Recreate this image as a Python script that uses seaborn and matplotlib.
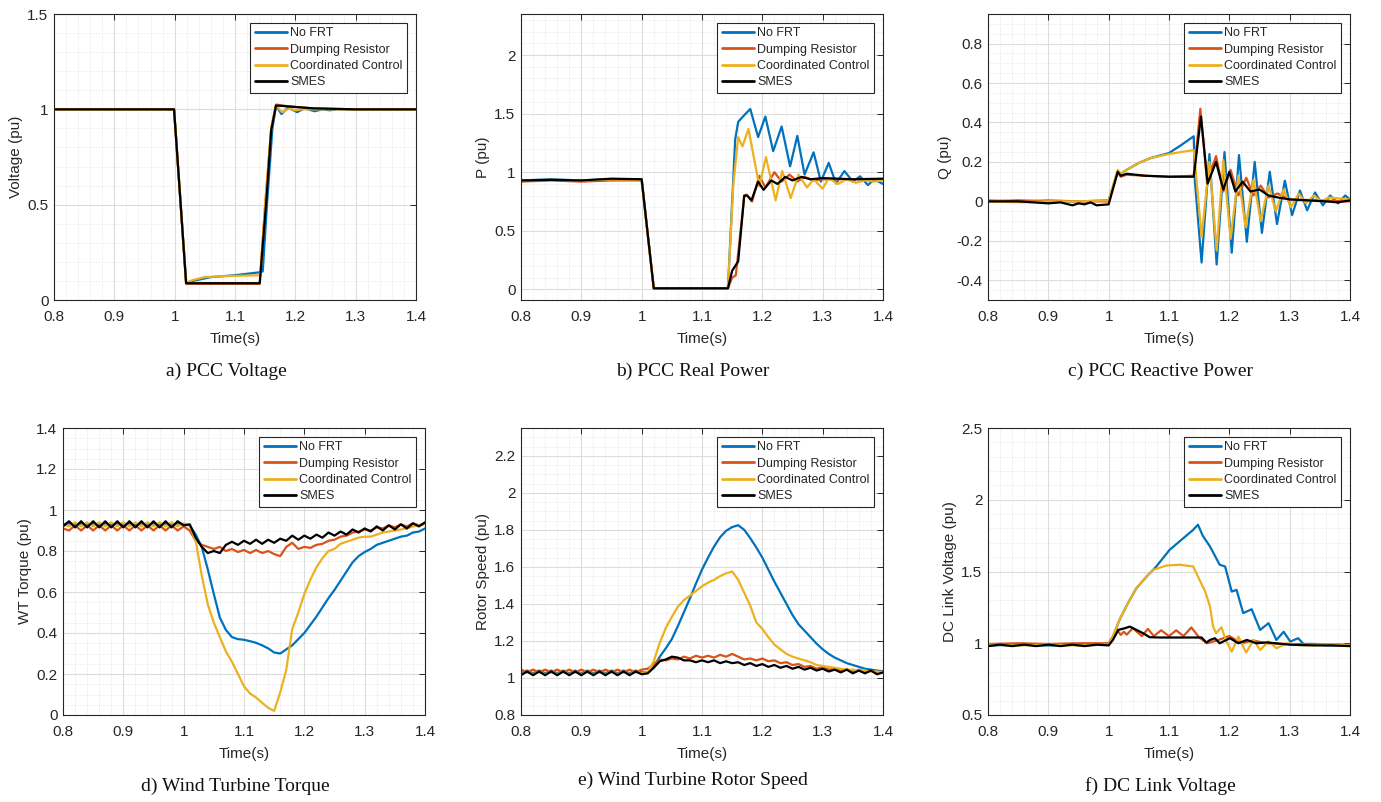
import numpy as np
import matplotlib.pyplot as plt
import matplotlib as mpl
from matplotlib.ticker import AutoMinorLocator, FormatStrFormatter
import seaborn as sns

# %%
# series names and MATLAB default colours
names = ["No FRT", "Dumping Resistor", "Coordinated Control", "SMES"]
colors = ["#0072BD", "#D95319", "#EDB120", "#000000"]

# %%
# a) PCC voltage
a_t_blue = [0.8, 0.999, 1.019, 1.03, 1.06, 1.1, 1.14, 1.146, 1.153, 1.162, 1.168, 1.177, 1.188, 1.203, 1.215, 1.232, 1.245, 1.257, 1.27, 1.4]
a_v_blue = [1.0, 1.0, 0.09, 0.10, 0.12, 0.13, 0.145, 0.15, 0.5, 0.9, 1.02, 0.975, 1.01, 0.985, 1.005, 0.99, 1.0, 0.995, 1.0, 1.0]
a_t_orange = [0.8, 0.999, 1.019, 1.141, 1.15, 1.16, 1.168, 1.19, 1.23, 1.3, 1.4]
a_v_orange = [1.0, 1.0, 0.085, 0.085, 0.5, 0.9, 1.025, 1.015, 1.005, 1.0, 1.0]
a_t_yellow = [0.8, 0.999, 1.019, 1.03, 1.05, 1.08, 1.142, 1.15, 1.16, 1.168, 1.178, 1.19, 1.2, 1.21, 1.4]
a_v_yellow = [1.0, 1.0, 0.09, 0.105, 0.12, 0.125, 0.13, 0.5, 0.9, 1.02, 0.985, 1.005, 0.995, 1.0, 1.0]
a_t_black = [0.8, 0.999, 1.019, 1.141, 1.152, 1.16, 1.168, 1.19, 1.23, 1.3, 1.4]
a_v_black = [1.0, 1.0, 0.088, 0.088, 0.525, 0.89, 1.02, 1.015, 1.005, 1.0, 1.0]

# %%
# b) PCC real power
b_t_blue = [0.8, 0.85, 0.9, 0.95, 1.0, 1.02, 1.143, 1.155, 1.16, 1.167, 1.18, 1.193, 1.205, 1.218, 1.232, 1.246, 1.258, 1.27, 1.285, 1.297, 1.31, 1.322, 1.336, 1.35, 1.362, 1.375, 1.385, 1.4]
b_v_blue = [0.93, 0.94, 0.93, 0.94, 0.94, 0.01, 0.01, 1.28, 1.43, 1.47, 1.54, 1.30, 1.475, 1.18, 1.39, 1.05, 1.31, 0.98, 1.17, 0.92, 1.08, 0.905, 1.01, 0.92, 0.965, 0.89, 0.94, 0.9]
b_t_orange = [0.8, 0.85, 0.9, 0.95, 1.0, 1.02, 1.143, 1.15, 1.156, 1.164, 1.17, 1.174, 1.183, 1.195, 1.205, 1.22, 1.232, 1.245, 1.258, 1.27, 1.285, 1.3, 1.4]
b_v_orange = [0.92, 0.93, 0.92, 0.93, 0.93, 0.01, 0.01, 0.1, 0.12, 0.5, 0.8, 0.81, 0.75, 0.97, 0.87, 1.0, 0.92, 0.98, 0.92, 0.96, 0.93, 0.94, 0.94]
b_t_yellow = [0.8, 0.85, 0.9, 0.95, 1.0, 1.02, 1.143, 1.152, 1.16, 1.167, 1.177, 1.195, 1.206, 1.222, 1.233, 1.247, 1.26, 1.274, 1.285, 1.3, 1.31, 1.325, 1.34, 1.355, 1.37, 1.385, 1.4]
b_v_yellow = [0.93, 0.935, 0.93, 0.94, 0.935, 0.01, 0.01, 0.9, 1.30, 1.22, 1.37, 0.88, 1.13, 0.76, 1.01, 0.78, 0.98, 0.87, 0.94, 0.86, 0.95, 0.9, 0.94, 0.91, 0.93, 0.92, 0.93]
b_t_black = [0.8, 0.85, 0.9, 0.95, 1.0, 1.02, 1.143, 1.15, 1.16, 1.17, 1.175, 1.182, 1.193, 1.202, 1.215, 1.225, 1.238, 1.25, 1.265, 1.28, 1.3, 1.35, 1.4]
b_v_black = [0.93, 0.935, 0.93, 0.945, 0.94, 0.01, 0.01, 0.16, 0.24, 0.8, 0.8, 0.76, 0.92, 0.85, 0.93, 0.9, 0.96, 0.93, 0.96, 0.94, 0.95, 0.94, 0.945]

# %%
# c) PCC reactive power
c_t_blue = [0.8, 0.85, 0.9, 0.95, 1.0, 1.015, 1.02, 1.03, 1.05, 1.07, 1.1, 1.12, 1.141, 1.143, 1.154, 1.167, 1.179, 1.192, 1.204, 1.216, 1.229, 1.242, 1.254, 1.267, 1.279, 1.292, 1.304, 1.317, 1.329, 1.342, 1.355, 1.367, 1.38, 1.392, 1.4]
c_v_blue = [0.0, 0.005, 0.0, 0.0, 0.005, 0.15, 0.14, 0.16, 0.195, 0.22, 0.245, 0.285, 0.33, 0.1, -0.31, 0.24, -0.32, 0.25, -0.26, 0.235, -0.205, 0.2, -0.16, 0.15, -0.115, 0.105, -0.07, 0.055, -0.045, 0.045, -0.02, 0.03, -0.01, 0.03, 0.01]
c_t_orange = [0.8, 0.85, 0.9, 0.95, 1.0, 1.015, 1.02, 1.03, 1.06, 1.1, 1.141, 1.152, 1.163, 1.178, 1.19, 1.202, 1.215, 1.228, 1.24, 1.252, 1.265, 1.28, 1.3, 1.35, 1.4]
c_v_orange = [0.005, 0.0, 0.005, 0.0, 0.0, 0.15, 0.125, 0.135, 0.13, 0.125, 0.13, 0.47, 0.1, 0.23, 0.05, 0.16, 0.03, 0.12, 0.03, 0.08, 0.02, 0.04, 0.01, 0.005, 0.0]
c_t_yellow = [0.8, 0.85, 0.9, 0.95, 1.0, 1.015, 1.02, 1.03, 1.05, 1.07, 1.1, 1.12, 1.141, 1.143, 1.154, 1.167, 1.179, 1.19, 1.202, 1.215, 1.227, 1.24, 1.252, 1.265, 1.277, 1.29, 1.302, 1.315, 1.327, 1.34, 1.352, 1.365, 1.4]
c_v_yellow = [0.0, -0.005, 0.0, 0.0, 0.005, 0.16, 0.14, 0.16, 0.195, 0.22, 0.24, 0.25, 0.26, 0.2, -0.18, 0.2, -0.25, 0.21, -0.19, 0.13, -0.13, 0.11, -0.1, 0.08, -0.05, 0.06, -0.03, 0.04, -0.01, 0.03, 0.0, 0.02, 0.01]
c_t_black = [0.8, 0.85, 0.9, 0.92, 0.94, 0.95, 0.96, 0.97, 0.98, 1.0, 1.015, 1.02, 1.03, 1.06, 1.1, 1.141, 1.153, 1.164, 1.178, 1.19, 1.2, 1.21, 1.222, 1.235, 1.25, 1.265, 1.28, 1.3, 1.33, 1.36, 1.38, 1.4]
c_v_black = [0.0, 0.0, -0.01, -0.005, -0.02, -0.01, -0.015, -0.005, -0.02, -0.015, 0.15, 0.13, 0.14, 0.13, 0.125, 0.125, 0.43, 0.09, 0.2, 0.06, 0.15, 0.05, 0.1, 0.05, 0.06, 0.03, 0.02, 0.01, 0.005, 0.0, -0.005, 0.005]

# %%
# shared 10 ms time grid for d) and e)
grid_t = [0.80, 0.81, 0.82, 0.83, 0.84, 0.85, 0.86, 0.87, 0.88, 0.89,
          0.90, 0.91, 0.92, 0.93, 0.94, 0.95, 0.96, 0.97, 0.98, 0.99,
          1.00, 1.01, 1.02, 1.03, 1.04, 1.05, 1.06, 1.07, 1.08, 1.09,
          1.10, 1.11, 1.12, 1.13, 1.14, 1.15, 1.16, 1.17, 1.18, 1.19,
          1.20, 1.21, 1.22, 1.23, 1.24, 1.25, 1.26, 1.27, 1.28, 1.29,
          1.30, 1.31, 1.32, 1.33, 1.34, 1.35, 1.36, 1.37, 1.38, 1.39, 1.40]

# d) wind turbine torque
d_blue = [0.93, 0.935, 0.925, 0.935, 0.925, 0.935, 0.925, 0.935, 0.925, 0.935,
          0.925, 0.935, 0.925, 0.935, 0.925, 0.935, 0.925, 0.935, 0.925, 0.935,
          0.93, 0.925, 0.88, 0.82, 0.71, 0.59, 0.475, 0.415, 0.38, 0.37,
          0.367, 0.36, 0.352, 0.34, 0.325, 0.305, 0.30, 0.32, 0.34, 0.37,
          0.40, 0.44, 0.48, 0.525, 0.57, 0.61, 0.655, 0.7, 0.745, 0.775,
          0.795, 0.81, 0.83, 0.84, 0.85, 0.86, 0.87, 0.875, 0.89, 0.895, 0.91]
d_orange = [0.91, 0.90, 0.925, 0.90, 0.925, 0.90, 0.925, 0.90, 0.925, 0.90,
            0.925, 0.90, 0.925, 0.90, 0.925, 0.90, 0.925, 0.90, 0.925, 0.90,
            0.92, 0.9, 0.85, 0.83, 0.82, 0.81, 0.82, 0.8, 0.81, 0.795,
            0.805, 0.79, 0.805, 0.79, 0.8, 0.785, 0.775, 0.82, 0.84, 0.81,
            0.82, 0.815, 0.83, 0.835, 0.85, 0.855, 0.87, 0.875, 0.89, 0.895,
            0.905, 0.9, 0.915, 0.91, 0.925, 0.915, 0.93, 0.92, 0.935, 0.925, 0.935]
d_yellow = [0.93, 0.92, 0.94, 0.92, 0.94, 0.92, 0.94, 0.92, 0.94, 0.92,
            0.94, 0.92, 0.94, 0.92, 0.94, 0.92, 0.94, 0.92, 0.94, 0.92,
            0.935, 0.925, 0.85, 0.68, 0.54, 0.45, 0.38, 0.31, 0.26, 0.2,
            0.14, 0.105, 0.085, 0.06, 0.035, 0.02, 0.11, 0.22, 0.42, 0.5,
            0.59, 0.66, 0.72, 0.765, 0.8, 0.81, 0.835, 0.845, 0.855, 0.865,
            0.87, 0.87, 0.88, 0.89, 0.895, 0.9, 0.905, 0.91, 0.92, 0.925, 0.93]
d_black = [0.92, 0.945, 0.915, 0.945, 0.915, 0.945, 0.915, 0.945, 0.915, 0.945,
           0.915, 0.945, 0.915, 0.945, 0.915, 0.945, 0.915, 0.945, 0.915, 0.945,
           0.925, 0.93, 0.865, 0.82, 0.79, 0.8, 0.79, 0.83, 0.845, 0.83,
           0.85, 0.835, 0.855, 0.835, 0.855, 0.84, 0.86, 0.85, 0.875, 0.855,
           0.875, 0.86, 0.88, 0.865, 0.89, 0.875, 0.895, 0.88, 0.905, 0.89,
           0.91, 0.895, 0.92, 0.9, 0.925, 0.905, 0.93, 0.91, 0.935, 0.92, 0.94]

# e) wind turbine rotor speed
e_blue = [1.025, 1.04, 1.025, 1.04, 1.025, 1.04, 1.025, 1.04, 1.025, 1.04,
          1.025, 1.04, 1.025, 1.04, 1.025, 1.04, 1.025, 1.04, 1.025, 1.04,
          1.03, 1.03, 1.06, 1.115, 1.16, 1.21, 1.28, 1.355, 1.43, 1.51,
          1.585, 1.65, 1.71, 1.76, 1.795, 1.815, 1.825, 1.80, 1.755, 1.705,
          1.65, 1.585, 1.52, 1.46, 1.40, 1.34, 1.29, 1.255, 1.22, 1.185,
          1.155, 1.13, 1.11, 1.095, 1.08, 1.07, 1.06, 1.05, 1.045, 1.04, 1.035]
e_orange = [1.045, 1.03, 1.045, 1.03, 1.045, 1.03, 1.045, 1.03, 1.045, 1.03,
            1.045, 1.03, 1.045, 1.03, 1.045, 1.03, 1.045, 1.03, 1.045, 1.03,
            1.045, 1.05, 1.075, 1.1, 1.095, 1.105, 1.1, 1.115, 1.105, 1.12,
            1.11, 1.12, 1.11, 1.125, 1.115, 1.13, 1.115, 1.1, 1.105, 1.095,
            1.105, 1.09, 1.095, 1.08, 1.085, 1.07, 1.075, 1.06, 1.065, 1.05,
            1.06, 1.045, 1.05, 1.04, 1.045, 1.035, 1.045, 1.03, 1.04, 1.03, 1.035]
e_yellow = [1.02, 1.035, 1.02, 1.035, 1.02, 1.035, 1.02, 1.035, 1.02, 1.035,
            1.02, 1.035, 1.02, 1.035, 1.02, 1.035, 1.02, 1.035, 1.02, 1.035,
            1.025, 1.03, 1.09, 1.19, 1.27, 1.33, 1.385, 1.42, 1.445, 1.47,
            1.495, 1.515, 1.53, 1.55, 1.565, 1.575, 1.53, 1.46, 1.39, 1.3,
            1.265, 1.22, 1.18, 1.155, 1.13, 1.115, 1.105, 1.095, 1.085, 1.07,
            1.065, 1.06, 1.055, 1.05, 1.045, 1.045, 1.04, 1.04, 1.035, 1.035, 1.03]
e_black = [1.015, 1.035, 1.015, 1.035, 1.015, 1.035, 1.015, 1.035, 1.015, 1.035,
           1.015, 1.035, 1.015, 1.035, 1.015, 1.035, 1.015, 1.035, 1.015, 1.035,
           1.02, 1.025, 1.055, 1.09, 1.1, 1.115, 1.11, 1.095, 1.095, 1.085,
           1.095, 1.085, 1.095, 1.08, 1.09, 1.08, 1.085, 1.07, 1.08, 1.065,
           1.075, 1.06, 1.07, 1.055, 1.065, 1.05, 1.06, 1.045, 1.055, 1.04,
           1.05, 1.035, 1.045, 1.03, 1.045, 1.025, 1.04, 1.025, 1.04, 1.02, 1.03]

# %%
# f) DC link voltage
f_t_blue = [0.8, 0.85, 0.9, 0.95, 1.0, 1.007, 1.018, 1.032, 1.046, 1.063, 1.079, 1.101, 1.124, 1.14, 1.148, 1.156, 1.168, 1.184, 1.193, 1.204, 1.212, 1.223, 1.237, 1.251, 1.265, 1.278, 1.29, 1.301, 1.314, 1.323, 1.34, 1.36, 1.4]
f_v_blue = [0.985, 0.99, 0.985, 0.99, 0.99, 1.046, 1.163, 1.28, 1.384, 1.465, 1.535, 1.651, 1.733, 1.79, 1.826, 1.749, 1.674, 1.547, 1.535, 1.36, 1.372, 1.21, 1.237, 1.093, 1.14, 1.023, 1.08, 1.012, 1.035, 0.995, 0.995, 0.985, 0.985]
f_t_orange = [0.8, 0.85, 0.9, 0.95, 1.0, 1.007, 1.013, 1.02, 1.025, 1.03, 1.04, 1.055, 1.065, 1.075, 1.087, 1.1, 1.112, 1.124, 1.137, 1.15, 1.163, 1.18, 1.2, 1.22, 1.24, 1.26, 1.3, 1.4]
f_v_orange = [0.995, 1.0, 0.995, 1.0, 1.0, 1.046, 1.1, 1.058, 1.08, 1.06, 1.105, 1.05, 1.1, 1.05, 1.09, 1.05, 1.09, 1.05, 1.11, 1.04, 1.0, 1.02, 1.05, 1.0, 1.02, 1.0, 0.995, 0.99]
f_t_yellow = [0.8, 0.85, 0.9, 0.95, 1.0, 1.007, 1.018, 1.032, 1.046, 1.063, 1.074, 1.096, 1.118, 1.14, 1.148, 1.16, 1.168, 1.173, 1.178, 1.187, 1.194, 1.204, 1.215, 1.228, 1.24, 1.251, 1.265, 1.278, 1.295, 1.32, 1.36, 1.4]
f_v_yellow = [0.99, 0.985, 0.99, 0.985, 0.99, 1.046, 1.163, 1.28, 1.384, 1.465, 1.512, 1.542, 1.547, 1.535, 1.465, 1.36, 1.256, 1.116, 1.07, 1.112, 1.023, 0.942, 1.046, 0.935, 1.023, 0.953, 1.012, 0.965, 1.0, 0.985, 0.99, 0.985]
f_t_black = [0.8, 0.82, 0.84, 0.86, 0.88, 0.9, 0.92, 0.94, 0.96, 0.98, 1.0, 1.007, 1.016, 1.027, 1.035, 1.046, 1.057, 1.068, 1.085, 1.154, 1.162, 1.168, 1.176, 1.184, 1.201, 1.215, 1.229, 1.245, 1.262, 1.3, 1.34, 1.37, 1.4]
f_v_black = [0.98, 0.99, 0.98, 0.99, 0.98, 0.99, 0.98, 0.99, 0.98, 0.99, 0.985, 1.023, 1.093, 1.105, 1.116, 1.093, 1.07, 1.042, 1.04, 1.04, 1.005, 1.023, 1.035, 1.0, 1.035, 1.0, 1.023, 1.0, 1.006, 0.99, 0.985, 0.985, 0.98]

# %%
sns.set_style("white")
mpl.rcParams["font.family"] = ["Liberation Sans", "DejaVu Sans"]
ink = "#262626"

fig = plt.figure(figsize=(13.81, 8.02), dpi=100)
W, H = 1381, 802


def make_axes(left, top, right, bottom):
    return fig.add_axes([left / W, 1 - bottom / H, (right - left) / W, (bottom - top) / H])


panels = [
    # (axes box px, series, ylim, yticks, ylabel, caption, caption pos px)
    ((54, 14, 416, 300),
     [(a_t_blue, a_v_blue), (a_t_orange, a_v_orange), (a_t_yellow, a_v_yellow), (a_t_black, a_v_black)],
     (0, 1.5), [0, 0.5, 1, 1.5], "Voltage (pu)", "a) PCC Voltage", (226, 371)),
    ((521, 14, 883, 300),
     [(b_t_blue, b_v_blue), (b_t_orange, b_v_orange), (b_t_yellow, b_v_yellow), (b_t_black, b_v_black)],
     (-0.09, 2.35), [0, 0.5, 1, 1.5, 2], "P (pu)", "b) PCC Real Power", (693, 371)),
    ((988, 14, 1350, 300),
     [(c_t_blue, c_v_blue), (c_t_orange, c_v_orange), (c_t_yellow, c_v_yellow), (c_t_black, c_v_black)],
     (-0.5, 0.95), [-0.4, -0.2, 0, 0.2, 0.4, 0.6, 0.8], "Q (pu)", "c) PCC Reactive Power", (1160, 371)),
    ((63, 428, 425, 715),
     [(grid_t, d_blue), (grid_t, d_orange), (grid_t, d_yellow), (grid_t, d_black)],
     (0, 1.4), [0, 0.2, 0.4, 0.6, 0.8, 1, 1.2, 1.4], "WT Torque (pu)", "d) Wind Turbine Torque", (235, 786)),
    ((521, 428, 883, 715),
     [(grid_t, e_blue), (grid_t, e_orange), (grid_t, e_yellow), (grid_t, e_black)],
     (0.8, 2.35), [0.8, 1, 1.2, 1.4, 1.6, 1.8, 2, 2.2], "Rotor Speed (pu)", "e) Wind Turbine Rotor Speed", (693, 780)),
    ((988, 428, 1350, 715),
     [(f_t_blue, f_v_blue), (f_t_orange, f_v_orange), (f_t_yellow, f_v_yellow), (f_t_black, f_v_black)],
     (0.5, 2.5), [0.5, 1, 1.5, 2, 2.5], "DC Link Voltage (pu)", "f) DC Link Voltage", (1160, 786)),
]

for box, series, ylim, yticks, ylabel, caption, cpos in panels:
    ax = make_axes(*box)
    for (t, v), name, col in zip(series, names, colors):
        sns.lineplot(x=t, y=v, ax=ax, color=col, linewidth=1.6, label=name,
                     estimator=None, sort=False)
    ax.set_xlim(0.8, 1.4)
    ax.set_ylim(*ylim)
    ax.set_xticks([0.8, 0.9, 1.0, 1.1, 1.2, 1.3, 1.4])
    ax.set_yticks(yticks)
    ax.xaxis.set_major_formatter(FormatStrFormatter("%g"))
    ax.yaxis.set_major_formatter(FormatStrFormatter("%g"))
    ax.xaxis.set_minor_locator(AutoMinorLocator(5))
    ax.yaxis.set_minor_locator(AutoMinorLocator())
    ax.set_axisbelow(True)
    ax.grid(which="major", color="#dcdcdc", linewidth=0.8, linestyle="-")
    ax.grid(which="minor", color="#d4d4d4", linewidth=0.5, linestyle=(0, (1, 2)))
    ax.tick_params(which="major", direction="in", top=True, right=True, length=4,
                   width=0.7, color=ink, labelcolor=ink, labelsize=11)
    ax.tick_params(axis="x", which="major", pad=7)
    ax.tick_params(axis="y", which="major", pad=4)
    ax.tick_params(which="minor", length=0)
    for s in ax.spines.values():
        s.set_color(ink)
        s.set_linewidth(0.8)
    ax.set_xlabel("Time(s)", fontsize=11, color=ink, labelpad=6)
    ax.set_ylabel(ylabel, fontsize=11, color=ink, labelpad=3)
    leg = ax.legend(loc="upper right", bbox_to_anchor=(0.975, 0.969), borderaxespad=0,
                    fontsize=9, frameon=True, fancybox=False, framealpha=1,
                    edgecolor=ink, handlelength=2.6, handletextpad=0.25,
                    labelspacing=0.35, borderpad=0.35)
    leg.get_frame().set_linewidth(0.8)
    for h in leg.get_lines():
        h.set_linewidth(2)
    fig.text(cpos[0] / W, 1 - cpos[1] / H, caption, ha="center", va="center",
             fontsize=14, family=["Liberation Serif", "DejaVu Serif"], color="#111111")

plt.savefig("out.png", dpi=100)
